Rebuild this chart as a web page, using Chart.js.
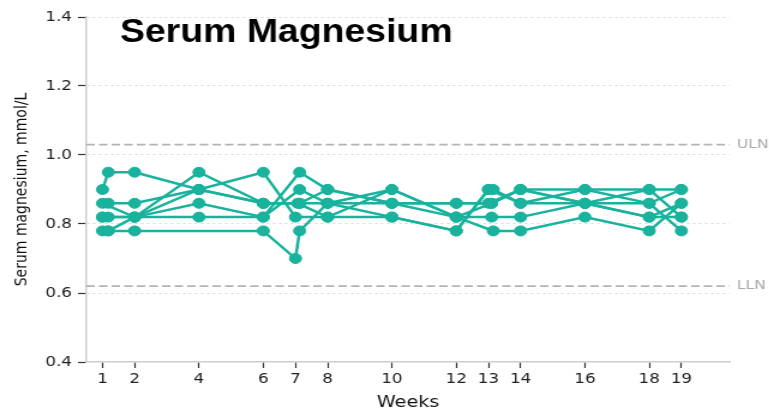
<!DOCTYPE html>
<html><head><meta charset="utf-8">
<script src="https://cdn.jsdelivr.net/npm/chart.js@4.4.1/dist/chart.umd.min.js"></script>
<style>
html,body{margin:0;padding:0;background:#fff;overflow:hidden;}
#wrap{width:641px;height:411px;transform:scaleX(1.2);transform-origin:0 0;}
</style></head><body>
<div id="wrap"><canvas id="c" width="641" height="411"></canvas></div>
<script>
// ---- data ----
const weekTicks = [1, 2, 4, 6, 7, 8, 10, 12, 13, 14, 16, 18, 19];
const yTickStep = 0.2;
const ULN = 1.03;
const LLN = 0.62;

const ptA_wk = [1, 1.18, 2, 4, 6, 7.13, 8, 10, 12, 13, 14, 16, 18, 19];
const ptA_mg = [0.90, 0.95, 0.95, 0.90, 0.86, 0.86, 0.90, 0.86, 0.86, 0.86, 0.90, 0.90, 0.90, 0.90];
const ptB_wk = [1, 1.18, 2, 6, 7, 7.13, 8, 10, 12, 13.15, 14, 16, 18, 19];
const ptB_mg = [0.78, 0.78, 0.78, 0.78, 0.70, 0.78, 0.86, 0.86, 0.82, 0.78, 0.78, 0.82, 0.78, 0.86];
const ptC_wk = [1, 2, 4, 6, 7.07, 8, 10, 12, 13, 13.15, 14, 16, 18, 19];
const ptC_mg = [0.86, 0.82, 0.95, 0.86, 0.86, 0.82, 0.82, 0.78, 0.90, 0.90, 0.86, 0.90, 0.86, 0.78];
const ptD_wk = [1, 1.18, 2, 4, 6, 7.13, 8, 10, 12, 13.1, 14, 16, 18, 19];
const ptD_mg = [0.82, 0.82, 0.82, 0.82, 0.82, 0.90, 0.86, 0.90, 0.82, 0.86, 0.90, 0.86, 0.90, 0.82];
const ptE_wk = [1.18, 2, 4, 6, 7, 8, 10, 12, 13.1, 14, 16, 18, 19];
const ptE_mg = [0.86, 0.86, 0.90, 0.95, 0.82, 0.82, 0.90, 0.82, 0.82, 0.82, 0.86, 0.86, 0.90];
const ptF_wk = [1, 2, 4, 6, 7.13, 8, 10, 12, 13.1, 14, 16, 18, 19];
const ptF_mg = [0.82, 0.82, 0.86, 0.82, 0.95, 0.90, 0.86, 0.86, 0.86, 0.90, 0.86, 0.82, 0.86];
const ptG_wk = [1.18, 2, 4, 6, 7.13, 8, 10, 12, 13, 14, 16, 18, 19];
const ptG_mg = [0.78, 0.82, 0.90, 0.86, 0.86, 0.86, 0.82, 0.78, 0.90, 0.86, 0.86, 0.82, 0.82];

const patients = [
  [ptA_wk, ptA_mg], [ptB_wk, ptB_mg], [ptC_wk, ptC_mg], [ptD_wk, ptD_mg],
  [ptE_wk, ptE_mg], [ptF_wk, ptF_mg], [ptG_wk, ptG_mg]
];

const TEAL = '#18b29d';
const FONT = '"DejaVu Sans", Verdana, sans-serif';

const datasets = patients.map(([wk, mg], i) => ({
  label: 'Patient ' + (i + 1),
  data: wk.map((w, j) => ({ x: w, y: mg[j] })),
  showLine: true,
  borderColor: TEAL,
  backgroundColor: TEAL,
  borderWidth: 2.5,
  pointRadius: 5,
  pointBorderWidth: 1,
  pointBackgroundColor: TEAL,
  pointBorderColor: TEAL
}));

[ULN, LLN].forEach((v, i) => datasets.push({
  label: i === 0 ? 'ULN' : 'LLN',
  data: [{ x: 0.5, y: v }, { x: 20.5, y: v }],
  showLine: true,
  borderColor: '#b3b3b3',
  borderWidth: 1.6,
  borderDash: [7, 3.5],
  pointRadius: 0
}));

const labelsPlugin = {
  id: 'extraText',
  afterDraw(chart) {
    const ctx = chart.ctx;
    const ys = chart.scales.y;
    const area = chart.chartArea;
    ctx.save();
    ctx.font = '13px ' + FONT;
    ctx.fillStyle = '#a9a9a9';
    ctx.textBaseline = 'middle';
    ctx.textAlign = 'left';
    ctx.fillText('ULN', area.right + 6, ys.getPixelForValue(ULN));
    ctx.fillText('LLN', area.right + 6, ys.getPixelForValue(LLN));
    ctx.restore();

    ctx.save();
    ctx.font = 'bold 34px "Liberation Sans", Arial, sans-serif';
    ctx.fillStyle = '#000';
    ctx.textBaseline = 'alphabetic';
    ctx.translate(100, 42);
    ctx.scale(1.1 / 1.2, 1);
    ctx.fillText('Serum Magnesium', 0, 0);
    ctx.restore();
  }
};

new Chart(document.getElementById('c'), {
  type: 'scatter',
  data: { datasets },
  plugins: [labelsPlugin],
  options: {
    responsive: false,
    animation: false,
    layout: { padding: { top: 17, right: 33, left: 0, bottom: 0 } },
    plugins: { legend: { display: false }, tooltip: { enabled: false } },
    scales: {
      x: {
        type: 'linear', min: 0.5, max: 20.5,
        afterBuildTicks: s => { s.ticks = weekTicks.map(v => ({ value: v })); },
        afterFit: s => { s.height = 49; },
        grid: { drawOnChartArea: false, drawTicks: true, tickLength: 6, tickColor: '#333', tickWidth: 1.2 },
        border: { display: true, color: '#cdcdcd', width: 1.5 },
        ticks: { color: '#222', font: { family: FONT, size: 14 }, padding: 3, autoSkip: false, maxRotation: 0, callback: v => String(v) },
        title: { display: true, text: 'Weeks', color: '#111', font: { family: FONT, size: 16, lineHeight: 1 }, padding: { top: 0, bottom: 0 } }
      },
      y: {
        min: 0.4, max: 1.4,
        afterFit: s => { s.width = 72; },
        ticks: { stepSize: yTickStep, color: '#222', font: { family: FONT, size: 14 }, padding: 5, callback: v => Number(v).toFixed(1) },
        grid: {
          color: c => (c.tick && Math.abs(c.tick.value - 0.4) < 1e-6) ? 'rgba(0,0,0,0)' : '#d9d9d9',
          lineWidth: 1, drawTicks: true, tickLength: 7, tickColor: '#333', tickWidth: 1.2
        },
        border: { display: true, color: '#cdcdcd', width: 1.5, dash: [2, 3] },
        title: { display: true, text: 'Serum magnesium, mmol/L', color: '#111', font: { family: FONT, size: 14 }, padding: { top: 10, bottom: 0 } }
      }
    }
  }
});
</script>
</body></html>
